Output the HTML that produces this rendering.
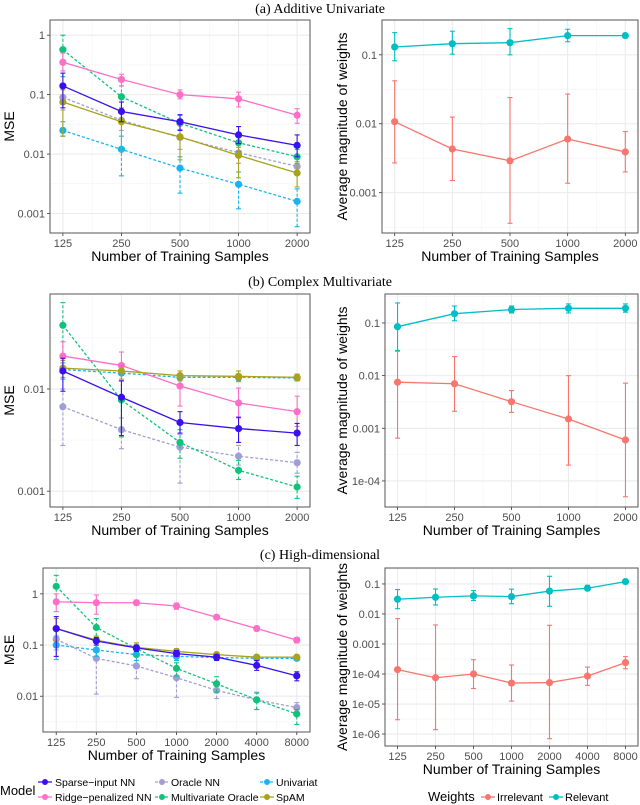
<!DOCTYPE html>
<html><head><meta charset="utf-8"><style>
body{margin:0;background:#fff;width:640px;height:805px;overflow:hidden}
svg{display:block;font-family:"Liberation Sans",sans-serif}
</style></head><body>
<svg id="fig" width="640" height="805" viewBox="0 0 640 805" xmlns="http://www.w3.org/2000/svg">
<text x="320" y="13" text-anchor="middle" font-family="Liberation Serif,serif" font-size="14">(a) Additive Univariate</text>
<text x="320" y="286" text-anchor="middle" font-family="Liberation Serif,serif" font-size="14">(b) Complex Multivariate</text>
<text x="320" y="559" text-anchor="middle" font-family="Liberation Serif,serif" font-size="14">(c) High-dimensional</text>
<g font-size="10.5">
<text x="0" y="795" font-size="13">Model</text>
<line x1="38" y1="782" x2="52" y2="782" stroke="#3a10f0" stroke-width="1.3"/><circle cx="45" cy="782" r="3" fill="#3a10f0"/>
<text x="55" y="786">Sparse−input NN</text>
<line x1="38" y1="797" x2="52" y2="797" stroke="#ff6ec7" stroke-width="1.3"/><circle cx="45" cy="797" r="3" fill="#ff6ec7"/>
<text x="55" y="801">Ridge−penalized NN</text>
<line x1="155" y1="782" x2="169" y2="782" stroke="#a09ed6" stroke-width="1.3" stroke-dasharray="3,2"/><circle cx="162" cy="782" r="3" fill="#a09ed6"/>
<text x="171" y="786">Oracle NN</text>
<line x1="155" y1="797" x2="169" y2="797" stroke="#12c27c" stroke-width="1.3" stroke-dasharray="3,2"/><circle cx="162" cy="797" r="3" fill="#12c27c"/>
<text x="171" y="801">Multivariate Oracle</text>
<line x1="260" y1="782" x2="274" y2="782" stroke="#1ab3f0" stroke-width="1.3" stroke-dasharray="3,2"/><circle cx="267" cy="782" r="3" fill="#1ab3f0"/>
<text x="276" y="786">Univariat</text>
<line x1="260" y1="797" x2="274" y2="797" stroke="#a8a31c" stroke-width="1.3"/><circle cx="267" cy="797" r="3" fill="#a8a31c"/>
<text x="276" y="801">SpAM</text>
</g>
<g font-size="11">
<text x="428" y="801" font-size="13">Weights</text>
<line x1="481" y1="797" x2="495" y2="797" stroke="#f8766d" stroke-width="1.3"/><circle cx="488" cy="797" r="3" fill="#f8766d"/>
<text x="497" y="801">Irrelevant</text>
<line x1="549" y1="797" x2="563" y2="797" stroke="#00bfc4" stroke-width="1.3"/><circle cx="556" cy="797" r="3" fill="#00bfc4"/>
<text x="565" y="801">Relevant</text>
</g>
</svg>
<script>
// ---- data ----
const xA = [125,250,500,1000,2000];
const xC = [125,250,500,1000,2000,4000,8000];
// Panel a (MSE)
const aSparse=[0.14,0.052,0.035,0.021,0.014], aSparseLo=[0.06,0.035,0.025,0.015,0.009], aSparseHi=[0.23,0.075,0.046,0.029,0.021];
const aOracle=[0.09,0.037,0.019,0.0105,0.0062], aOracleLo=[0.055,0.025,0.012,0.007,0.005], aOracleHi=[0.13,0.05,0.026,0.014,0.0075];
const aUni=[0.025,0.012,0.0058,0.0031,0.0016], aUniLo=[0.02,0.0043,0.0022,0.0012,0.0006], aUniHi=[0.035,0.02,0.009,0.005,0.0026];
const aRidge=[0.35,0.18,0.1,0.085,0.045], aRidgeLo=[0.25,0.14,0.085,0.062,0.033], aRidgeHi=[0.5,0.22,0.12,0.11,0.058];
const aMulti=[0.57,0.092,0.033,0.0155,0.009], aMultiLo=[0.2,0.05,0.025,0.011,0.007], aMultiHi=[1,0.14,0.045,0.02,0.012];
const aSpam=[0.075,0.035,0.0195,0.0095,0.0048], aSpamLo=[0.02,0.011,0.008,0.004,0.0028], aSpamHi=[0.12,0.06,0.03,0.013,0.007];
// Panel b (MSE)
const bSparse=[0.015,0.0083,0.0047,0.0041,0.0037], bSparseLo=[0.0095,0.0035,0.0037,0.003,0.0028], bSparseHi=[0.02,0.012,0.006,0.0053,0.0046];
const bOracle=[0.0067,0.004,0.0027,0.0022,0.0019], bOracleLo=[0.0028,0.0026,0.0012,0.0018,0.0015], bOracleHi=[0.01,0.0052,0.0036,0.0028,0.0024];
const bUni=[0.0155,0.0143,0.013,0.013,0.0128], bUniLo=[0.0125,0.012,0.012,0.012,0.012], bUniHi=[0.018,0.016,0.014,0.014,0.0135];
const bRidge=[0.021,0.017,0.0107,0.0073,0.006], bRidgeLo=[0.015,0.012,0.0068,0.0052,0.0043], bRidgeHi=[0.029,0.023,0.014,0.0102,0.0085];
const bMulti=[0.042,0.0078,0.003,0.0016,0.0011], bMultiLo=[0.02,0.0034,0.0021,0.0013,0.00085], bMultiHi=[0.07,0.012,0.004,0.002,0.0014];
const bSpam=[0.016,0.015,0.0135,0.0133,0.013], bSpamLo=[0.013,0.0125,0.012,0.0118,0.012], bSpamHi=[0.019,0.017,0.015,0.015,0.014];
// Panel c (MSE)
const cSparse=[0.21,0.12,0.088,0.068,0.058,0.04,0.025], cSparseLo=[0.06,0.1,0.075,0.06,0.05,0.032,0.02], cSparseHi=[0.36,0.14,0.1,0.078,0.065,0.05,0.03];
const cOracle=[0.13,0.055,0.039,0.023,0.013,0.0085,0.006], cOracleLo=[0.08,0.011,0.022,0.0095,0.009,0.0055,0.0045], cOracleHi=[0.2,0.1,0.06,0.035,0.018,0.012,0.0075];
const cUni=[0.1,0.08,0.065,0.06,0.057,0.055,0.055], cUniLo=[0.052,0.06,0.05,0.05,0.05,0.05,0.05], cUniHi=[0.15,0.1,0.08,0.07,0.065,0.06,0.06];
const cRidge=[0.7,0.67,0.67,0.58,0.35,0.21,0.125], cRidgeLo=[0.45,0.4,0.6,0.5,0.32,0.19,0.11], cRidgeHi=[1,0.95,0.75,0.66,0.38,0.23,0.14];
const cMulti=[1.4,0.22,0.085,0.035,0.0175,0.0085,0.0045], cMultiLo=[0.7,0.15,0.06,0.025,0.012,0.0055,0.0028], cMultiHi=[2.3,0.33,0.11,0.045,0.024,0.0115,0.0055];
const cSpam=[0.21,0.125,0.09,0.075,0.065,0.058,0.058], cSpamLo=[0.12,0.1,0.075,0.065,0.058,0.052,0.052], cSpamHi=[0.33,0.15,0.11,0.085,0.072,0.064,0.064];
// Weights
const waRel=[0.13,0.145,0.15,0.19,0.19], waRelLo=[0.082,0.102,0.1,0.155,0.18], waRelHi=[0.21,0.22,0.24,0.235,0.2];
const waIrr=[0.0107,0.0043,0.0029,0.006,0.0039], waIrrLo=[0.0027,0.0015,0.00036,0.00137,0.002], waIrrHi=[0.042,0.0125,0.024,0.027,0.0077];
const wbRel=[0.085,0.15,0.18,0.19,0.19], wbRelLo=[0.03,0.11,0.155,0.155,0.16], wbRelHi=[0.24,0.21,0.21,0.23,0.23];
const wbIrr=[0.0075,0.007,0.0032,0.0015,0.0006], wbIrrLo=[0.00065,0.0021,0.002,0.0002,0.00005], wbIrrHi=[0.029,0.023,0.0052,0.01,0.0072];
const wcRel=[0.031,0.036,0.04,0.038,0.058,0.072,0.12], wcRelLo=[0.015,0.02,0.028,0.022,0.018,0.06,0.11], wcRelHi=[0.065,0.068,0.06,0.067,0.18,0.09,0.13];
const wcIrr=[1.4e-4,7.5e-5,1e-4,5e-5,5.2e-5,8.5e-5,2.4e-4], wcIrrLo=[3e-6,1.4e-6,3.3e-5,1.25e-5,7e-7,4.2e-5,1.5e-4], wcIrrHi=[0.007,0.0043,3e-4,2e-4,0.0042,1.7e-4,3.8e-4];
const yTicksA=[1,0.1,0.01,0.001], yTicksB=[0.01,0.001], yTicksC=[1,0.1,0.01];
const wTicksA=[0.1,0.01,0.001], wTicksB=[0.1,0.01,0.001,1e-4], wTicksC=[0.1,0.01,0.001,1e-4,1e-5,1e-6];
const wTickLabels={0.1:"0.1",0.01:"0.01",0.001:"0.001",1e-4:"1e-04",1e-5:"1e-05",1e-6:"1e-06",1:"1"};

const NS="http://www.w3.org/2000/svg";
const fig=document.getElementById('fig');
function mk(tag,attrs,parent){const e=document.createElementNS(NS,tag);for(const k in attrs)e.setAttribute(k,attrs[k]);(parent||fig).appendChild(e);return e;}

function panel(name,box,xs,yDomain,yTicks,yTitle,series){
  const g=mk('g',{});
  
  
  const [L,T,R,B]=box;
  const lx0=Math.log2(xs[0]),lx1=Math.log2(xs[xs.length-1]);
  const pad=(lx1-lx0)*0.055;
  const X=v=>L+(Math.log2(v)-lx0+pad)/(lx1-lx0+2*pad)*(R-L);
  const ly0=Math.log10(yDomain[0]),ly1=Math.log10(yDomain[1]);
  const Y=v=>B-(Math.log10(v)-ly0)/(ly1-ly0)*(B-T);
  mk('rect',{x:L,y:T,width:R-L,height:B-T,fill:'#fff'},g);
  for(let i=0;i<xs.length-1;i++){const xm=X(Math.sqrt(xs[i]*xs[i+1]));mk('line',{x1:xm,x2:xm,y1:T,y2:B,stroke:'#f3f3f3','stroke-width':0.6},g);}
  for(let e=Math.floor(ly0);e<=Math.ceil(ly1);e++){const v=Math.pow(10,e+0.5);const y=Y(v);if(y>T&&y<B)mk('line',{x1:L,x2:R,y1:y,y2:y,stroke:'#f3f3f3','stroke-width':0.6},g);}
  xs.forEach(v=>{mk('line',{x1:X(v),x2:X(v),y1:T,y2:B,stroke:'#ebebeb','stroke-width':1.1},g);
    const t=mk('text',{x:X(v),y:B+14,'text-anchor':'middle','font-size':11,fill:'#4d4d4d'},g);t.textContent=v;
    
    
    mk('line',{x1:X(v),x2:X(v),y1:B,y2:B+3,stroke:'#333','stroke-width':0.8},g);});
  yTicks.forEach(v=>{const y=Y(v);mk('line',{x1:L,x2:R,y1:y,y2:y,stroke:'#ebebeb','stroke-width':1.1},g);
    const t=mk('text',{x:L-5,y:y+4,'text-anchor':'end','font-size':11,fill:'#4d4d4d'},g);t.textContent=wTickLabels[v];
    
    
    mk('line',{x1:L-3,x2:L,y1:y,y2:y,stroke:'#333','stroke-width':0.8},g);});
  series.forEach(s=>{
    const sg=mk('g',{},g);
    
    
    const dash=s.dash?'3,2':'none';
    s.lo.forEach((lo,i)=>{const x=X(xs[i]);
      mk('line',{x1:x,x2:x,y1:Y(lo),y2:Y(s.hi[i]),stroke:s.c,'stroke-width':1.1,'stroke-dasharray':dash},sg);
      mk('line',{x1:x-2.5,x2:x+2.5,y1:Y(lo),y2:Y(lo),stroke:s.c,'stroke-width':1.1},sg);
      mk('line',{x1:x-2.5,x2:x+2.5,y1:Y(s.hi[i]),y2:Y(s.hi[i]),stroke:s.c,'stroke-width':1.1},sg);});
    mk('polyline',{points:s.v.map((v,i)=>X(xs[i])+','+Y(v)).join(' '),fill:'none',stroke:s.c,'stroke-width':1.3,'stroke-dasharray':dash},sg);
    s.v.forEach((v,i)=>{const p=mk('circle',{cx:X(xs[i]),cy:Y(v),r:3.6,fill:s.c},sg);
      
      });
  });
  mk('rect',{x:L,y:T,width:R-L,height:B-T,fill:'none',stroke:'#555','stroke-width':1},g);
  const xt=mk('text',{x:(L+R)/2,y:B+28,'text-anchor':'middle','font-size':14},g);xt.textContent='Number of Training Samples';
  
  
  const yx=yTitle==='MSE'?14:347;
  const yt=mk('text',{x:yx,y:(T+B)/2,'text-anchor':'middle','font-size':14,transform:`rotate(-90 ${yx} ${(T+B)/2})`},g);yt.textContent=yTitle;
  
  
}
const C={sp:'#3a10f0',or:'#a09ed6',un:'#1ab3f0',ri:'#ff6ec7',mu:'#12c27c',sa:'#a8a31c',irr:'#f8766d',rel:'#00bfc4'};
function mse(sp,spL,spH,or,orL,orH,un,unL,unH,ri,riL,riH,mu,muL,muH,sa,saL,saH){return [
 {name:'oracle-nn',c:C.or,dash:true,v:or,lo:orL,hi:orH},
 {name:'univariate',c:C.un,dash:true,v:un,lo:unL,hi:unH},
 {name:'multivariate-oracle',c:C.mu,dash:true,v:mu,lo:muL,hi:muH},
 {name:'ridge-nn',c:C.ri,v:ri,lo:riL,hi:riH},
 {name:'spam',c:C.sa,v:sa,lo:saL,hi:saH},
 {name:'sparse-input-nn',c:C.sp,v:sp,lo:spL,hi:spH}];}
panel('mse-panel-a',[50,20,310,233],xA,[0.00047,1.8],yTicksA,'MSE',
 mse(aSparse,aSparseLo,aSparseHi,aOracle,aOracleLo,aOracleHi,aUni,aUniLo,aUniHi,aRidge,aRidgeLo,aRidgeHi,aMulti,aMultiLo,aMultiHi,aSpam,aSpamLo,aSpamHi));
panel('mse-panel-b',[50,294,310,507],xA,[0.0007,0.085],yTicksB,'MSE',
 mse(bSparse,bSparseLo,bSparseHi,bOracle,bOracleLo,bOracleHi,bUni,bUniLo,bUniHi,bRidge,bRidgeLo,bRidgeHi,bMulti,bMultiLo,bMultiHi,bSpam,bSpamLo,bSpamHi));
panel('mse-panel-c',[43,568,310,732],xC,[0.002,3.2],yTicksC,'MSE',
 mse(cSparse,cSparseLo,cSparseHi,cOracle,cOracleLo,cOracleHi,cUni,cUniLo,cUniHi,cRidge,cRidgeLo,cRidgeHi,cMulti,cMultiLo,cMultiHi,cSpam,cSpamLo,cSpamHi));
panel('weights-panel-a',[382,20,638,233],xA,[0.00026,0.32],wTicksA,'Average magnitude of weights',
 [{name:'irrelevant',c:C.irr,v:waIrr,lo:waIrrLo,hi:waIrrHi},{name:'relevant',c:C.rel,v:waRel,lo:waRelLo,hi:waRelHi}]);
panel('weights-panel-b',[385,294,638,507],xA,[3.2e-5,0.355],wTicksB,'Average magnitude of weights',
 [{name:'irrelevant',c:C.irr,v:wbIrr,lo:wbIrrLo,hi:wbIrrHi},{name:'relevant',c:C.rel,v:wbRel,lo:wbRelLo,hi:wbRelHi}]);
panel('weights-panel-c',[385,568,638,746],xC,[4e-7,0.34],wTicksC,'Average magnitude of weights',
 [{name:'irrelevant',c:C.irr,v:wcIrr,lo:wcIrrLo,hi:wcIrrHi},{name:'relevant',c:C.rel,v:wcRel,lo:wcRelLo,hi:wcRelHi}]);
</script>
</body></html>
